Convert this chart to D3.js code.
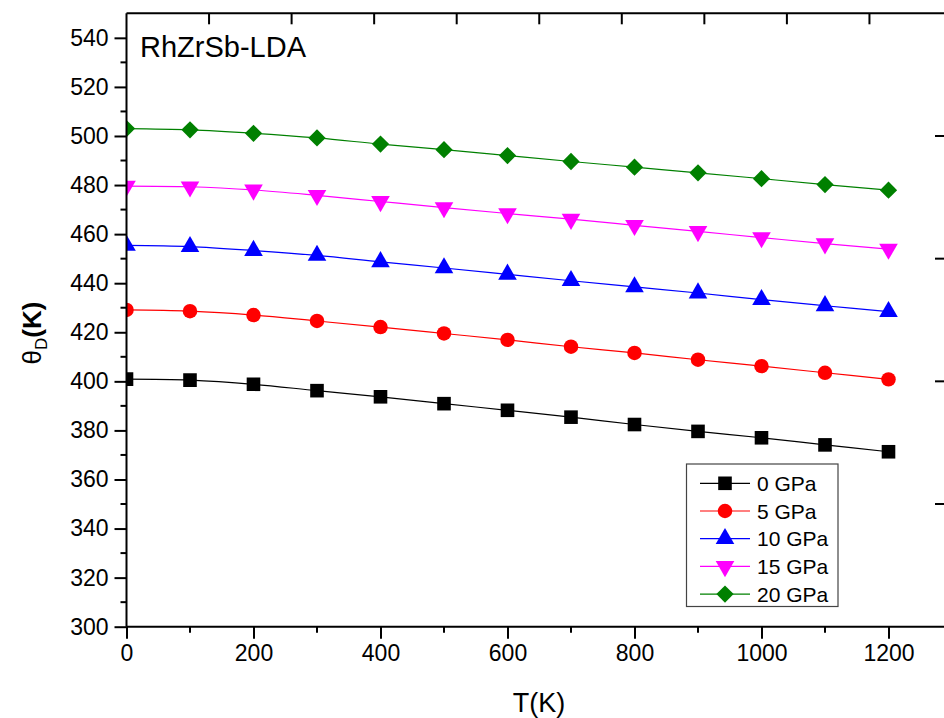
<!DOCTYPE html>
<html>
<head>
<meta charset="utf-8">
<script src="https://cdn.jsdelivr.net/npm/d3@7"></script>
<style>
  body { margin: 0; background: #fff; }
  svg { display: block; font-family: Arial, "Liberation Sans", sans-serif; }
</style>
</head>
<body>
<svg id="chart" width="944" height="718"></svg>
<script>
// temperatures (K)
var temps = [0, 100, 200, 300, 400, 500, 600, 700, 800, 900, 1000, 1100, 1200]

// Debye temperature per pressure
var p0 = [400.9, 400.5, 398.8, 396.2, 393.7, 390.9, 388.2, 385.4, 382.4, 379.6, 377.0, 374.1, 371.3]
var p5 = [429.1, 428.6, 427.0, 424.6, 422.1, 419.5, 416.9, 414.1, 411.6, 408.8, 406.2, 403.5, 400.8]
var p10 = [455.4, 454.9, 453.3, 451.3, 448.7, 446.2, 443.6, 441.0, 438.5, 436.0, 433.3, 430.8, 428.4]
var p15 = [479.6, 479.3, 478.0, 475.8, 473.3, 470.8, 468.4, 466.1, 463.6, 461.1, 458.6, 456.1, 453.9]
var p20 = [503.0, 502.5, 501.1, 499.2, 496.7, 494.4, 492.0, 489.6, 487.3, 485.0, 482.6, 480.2, 477.9]

var seriesNames = ['0 GPa', '5 GPa', '10 GPa', '15 GPa', '20 GPa']
var seriesVals = [p0, p5, p10, p15, p20]
var colors = ['#000000', '#ff0000', '#0000ff', '#ff00ff', '#008000']

var xTicks = [0, 200, 400, 600, 800, 1000, 1200]
var yTicks = [300, 320, 340, 360, 380, 400, 420, 440, 460, 480, 500, 520, 540]

var svg = d3.select('#chart')

var x = d3.scaleLinear().domain([0, 1300]).range([126.5, 952])
var y = d3.scaleLinear().domain([300, 550]).range([626.7, 13.3])

var plotL = x(0), plotR = x(1300), plotT = y(550), plotB = y(300)

// marker shapes
function symbolFor (i) {
  if (i === 0) return d3.symbol().type(d3.symbolSquare).size(185)()
  if (i === 1) return d3.symbol().type(d3.symbolCircle).size(165)()
  if (i === 2) return d3.symbol().type(d3.symbolTriangle).size(150)()
  if (i === 3) return d3.symbol().type(d3.symbolTriangle).size(150)()
  return d3.symbol().type(d3.symbolDiamond2).size(190)()
}
function rotFor (i) {
  return i === 3 ? ' rotate(180)' : ''
}

svg.append('defs').append('clipPath').attr('id', 'plotclip')
  .append('rect')
  .attr('x', plotL).attr('y', plotT)
  .attr('width', plotR - plotL).attr('height', plotB - plotT)

var plot = svg.append('g').attr('clip-path', 'url(#plotclip)')

var line = d3.line()
  .x(function (d) { return x(d[0]) })
  .y(function (d) { return y(d[1]) })
  .curve(d3.curveCatmullRom)

seriesVals.forEach(function (vals, i) {
  var pts = temps.map(function (t, k) { return [t, vals[k]] })
  plot.append('path')
    .datum(pts)
    .attr('d', line)
    .attr('fill', 'none')
    .attr('stroke', colors[i])
    .attr('stroke-width', 1.2)

  plot.append('g')
    .selectAll('path')
    .data(pts)
    .enter().append('path')
    .attr('d', symbolFor(i))
    .attr('transform', function (d) {
      return 'translate(' + x(d[0]) + ',' + y(d[1]) + ')' + rotFor(i)
    })
    .attr('fill', colors[i])
})

// axes
var axisW = 2

var xAxis = svg.append('g')
  .attr('transform', 'translate(0,' + plotB + ')')
  .call(d3.axisBottom(x).tickValues(xTicks).tickSize(12).tickPadding(6).tickFormat(d3.format('d')))
xAxis.select('.domain').remove()
xAxis.selectAll('.tick line').attr('stroke-width', axisW)
xAxis.selectAll('text').attr('font-size', 23).attr('fill', '#000')

svg.append('g')
  .attr('transform', 'translate(0,' + plotB + ')')
  .selectAll('line')
  .data(d3.range(100, 1300, 200))
  .enter().append('line')
  .attr('x1', function (d) { return x(d) }).attr('x2', function (d) { return x(d) })
  .attr('y1', 0).attr('y2', 6)
  .attr('stroke', '#000').attr('stroke-width', axisW)

var yAxis = svg.append('g')
  .attr('transform', 'translate(' + plotL + ',0)')
  .call(d3.axisLeft(y).tickValues(yTicks).tickSize(12).tickPadding(6).tickFormat(d3.format('d')))
yAxis.select('.domain').remove()
yAxis.selectAll('.tick line').attr('stroke-width', axisW)
yAxis.selectAll('text').attr('font-size', 23).attr('fill', '#000')

svg.append('g')
  .attr('transform', 'translate(' + plotL + ',0)')
  .selectAll('line')
  .data(d3.range(310, 550, 20))
  .enter().append('line')
  .attr('y1', function (d) { return y(d) }).attr('y2', function (d) { return y(d) })
  .attr('x1', 0).attr('x2', -6)
  .attr('stroke', '#000').attr('stroke-width', axisW)

// top axis, ticks inside
svg.append('g')
  .selectAll('line')
  .data(d3.range(130, 1300, 130))
  .enter().append('line')
  .attr('x1', function (d) { return x(d) }).attr('x2', function (d) { return x(d) })
  .attr('y1', plotT).attr('y2', plotT + 11)
  .attr('stroke', '#000').attr('stroke-width', axisW)

// right axis, ticks inside
svg.append('g')
  .selectAll('line')
  .data([350, 400, 450, 500])
  .enter().append('line')
  .attr('y1', function (d) { return y(d) }).attr('y2', function (d) { return y(d) })
  .attr('x1', plotR - 17).attr('x2', plotR)
  .attr('stroke', '#000').attr('stroke-width', axisW)

// frame
svg.append('line').attr('x1', plotL).attr('x2', plotR).attr('y1', plotB).attr('y2', plotB)
  .attr('stroke', '#000').attr('stroke-width', axisW)
svg.append('line').attr('x1', plotL).attr('x2', plotL).attr('y1', plotT).attr('y2', plotB)
  .attr('stroke', '#000').attr('stroke-width', axisW)
svg.append('line').attr('x1', plotL).attr('x2', plotR).attr('y1', plotT).attr('y2', plotT)
  .attr('stroke', '#000').attr('stroke-width', axisW)

// labels
svg.append('text')
  .attr('x', 140).attr('y', 57)
  .attr('font-size', 29)
  .text('RhZrSb-LDA')

svg.append('text')
  .attr('x', 539).attr('y', 712)
  .attr('text-anchor', 'middle')
  .attr('font-size', 27)
  .text('T(K)')

var yl = svg.append('text')
  .attr('transform', 'translate(41,333) rotate(-90)')
  .attr('text-anchor', 'middle')
  .attr('font-size', 26)
yl.append('tspan').text('θ')
yl.append('tspan').attr('font-size', 17).attr('dy', 6).text('D')
yl.append('tspan').attr('dy', -6).attr('font-weight', 'bold').text('(K)')

// legend
var legend = svg.append('g')
legend.append('rect')
  .attr('x', 686.5).attr('y', 464)
  .attr('width', 151.5).attr('height', 142.5)
  .attr('fill', '#fff')
  .attr('stroke', '#444')
  .attr('stroke-width', 1.2)

seriesNames.forEach(function (name, i) {
  var ly = 483.3 + i * 27.7
  legend.append('line')
    .attr('x1', 700).attr('x2', 750)
    .attr('y1', ly).attr('y2', ly)
    .attr('stroke', colors[i]).attr('stroke-width', 1.2)
  legend.append('path')
    .attr('d', symbolFor(i))
    .attr('transform', 'translate(725,' + ly + ')' + rotFor(i))
    .attr('fill', colors[i])
  legend.append('text')
    .attr('x', 757).attr('y', ly + 7.5)
    .attr('font-size', 21)
    .text(name)
})
</script>
</body>
</html>
